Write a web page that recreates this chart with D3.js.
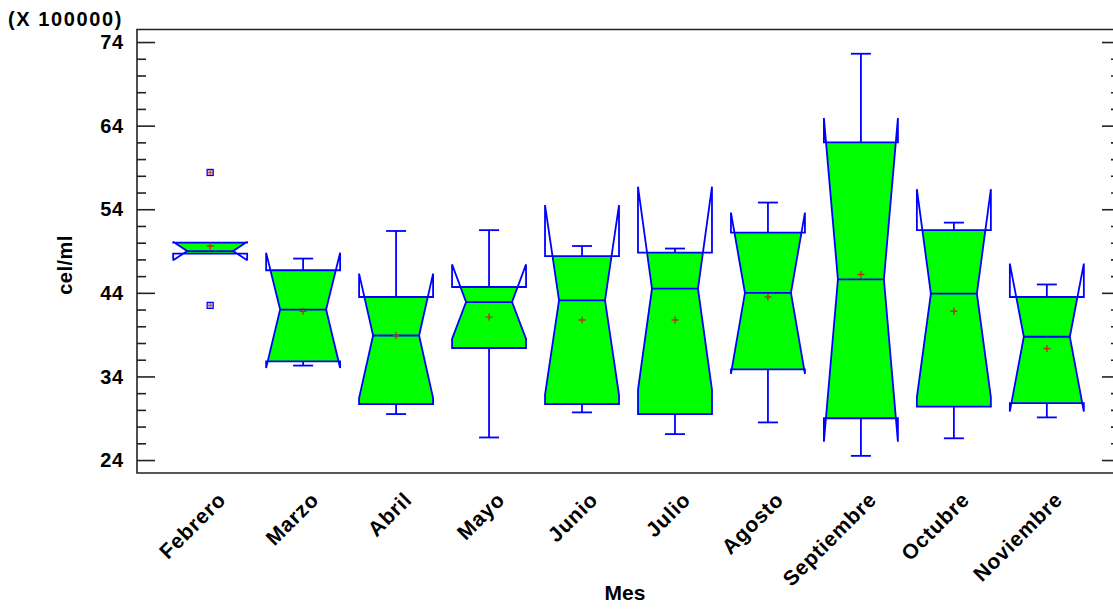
<!DOCTYPE html>
<html><head><meta charset="utf-8">
<script src="https://cdn.jsdelivr.net/npm/d3@7"></script>
<style>
body{margin:0;background:#fff;}
text{font-family:"Liberation Sans",Arial,sans-serif;font-weight:bold;fill:#000;}
</style></head>
<body><svg id="c" width="1113" height="609"></svg>
<script>
const categories = ["Febrero","Marzo","Abril","Mayo","Junio","Julio","Agosto","Septiembre","Octubre","Noviembre"];
const whiskerLo = [48.7, 35.3, 29.5, 26.7, 29.7, 27.1, 28.5, 24.5, 26.6, 29.1];
const q1Values  = [48.7, 35.8, 30.7, 37.4, 30.7, 29.5, 34.85, 29.0, 30.4, 30.8];
const medians   = [49.0, 42.0, 38.9, 42.9, 43.1, 44.5, 44.0, 45.6, 43.9, 38.75];
const q3Values  = [50.0, 46.7, 43.5, 44.7, 48.4, 48.8, 51.2, 62.0, 51.5, 43.5];
const whiskerHi = [50.0, 48.1, 51.4, 51.5, 49.6, 49.3, 54.8, 72.6, 52.4, 45.0];
const means     = [49.6, 41.8, 38.9, 41.1, 40.75, 40.75, 43.5, 46.2, 41.8, 37.35];
const notchLo   = [47.9, 35.0, 31.4, 38.5, 31.8, 32.4, 34.3, 26.2, 31.5, 29.8];
const notchHi   = [50.1, 48.8, 46.3, 47.4, 54.5, 56.7, 53.6, 64.9, 56.4, 47.5];
const outliers  = [{cat:"Febrero", v:58.4}, {cat:"Febrero", v:42.5}];
const yTicks = [24, 34, 44, 54, 64, 74];
const yMinorTicks = d3.range(24, 75, 2);

const svg = d3.select("#c");
const L = 137, R = 1120, T = 29.5, B = 473;
const y = d3.scaleLinear().domain([22.45, 75.5]).range([B, T]);
const x = d3.scalePoint().domain(categories).range([L, R]).padding(0.787);
const hw = 37, mhw = 23, cap = 10;
const blue = "#0000ff";
const sw = 1.8;

// frame
svg.append("path").attr("d", `M${R},${T}H${L}V${B}H${R}`).attr("fill","none").attr("stroke","#222").attr("stroke-width",1.6);

function ticks(pos, gen, vals, size){
  const a = svg.append("g").attr("transform",`translate(${pos},0)`)
    .call(gen(y).tickValues(vals).tickSize(size).tickFormat(""));
  a.select(".domain").remove();
  a.selectAll("line").attr("stroke","#222").attr("stroke-width",1.6);
}
const minorOnly = yMinorTicks.filter(v=>!yTicks.includes(v));
ticks(L, d3.axisRight, yTicks, 18);
ticks(L, d3.axisRight, minorOnly, 9);
ticks(R, d3.axisLeft, yTicks, 18);
ticks(R, d3.axisLeft, minorOnly, 9);

// y tick labels
svg.append("g").selectAll("text").data(yTicks).join("text")
  .attr("x", 124).attr("y", d=>y(d)).attr("dy","0.36em")
  .attr("text-anchor","end").attr("font-size",20).attr("letter-spacing","0.8px")
  .text(d=>d);
svg.append("text").attr("x",8).attr("y",26).attr("font-size",20).attr("letter-spacing","1.6px").text("(X 100000)");
svg.append("text").attr("transform","translate(72,265) rotate(-90)").attr("text-anchor","middle")
  .attr("font-size",20).attr("letter-spacing","0.5px").text("cel/ml");
svg.append("text").attr("x",625).attr("y",600).attr("text-anchor","middle").attr("font-size",21).text("Mes");

// x labels
svg.append("g").selectAll("text").data(categories).join("text")
  .attr("transform", d=>`translate(${x(d)+17},${501}) rotate(-45)`)
  .attr("text-anchor","end").attr("font-size",21).attr("letter-spacing","0.8px")
  .text(d=>d);

// boxes
const clipDefs = svg.append("defs");
categories.forEach((c,i)=>{
  const cx = x(c);
  const g = svg.append("g");
  const yq1 = y(q1Values[i]), yq3 = y(q3Values[i]), ym = y(medians[i]);
  const ynH = y(notchHi[i]), ynL = y(notchLo[i]);
  const pts = [[cx-hw,yq3],[cx+hw,yq3],[cx+hw,ynH],[cx+mhw,ym],[cx+hw,ynL],[cx+hw,yq1],
               [cx-hw,yq1],[cx-hw,ynL],[cx-mhw,ym],[cx-hw,ynH]];
  const pathD = d3.line()(pts) + "Z";
  const id = "clip"+i;
  clipDefs.append("clipPath").attr("id",id).append("rect")
    .attr("x",cx-hw-2).attr("y",yq3).attr("width",2*hw+4).attr("height",yq1-yq3);
  g.append("path").attr("d",pathD).attr("fill","#00ff00").attr("stroke","none").attr("clip-path",`url(#${id})`);
  const wl = [[whiskerHi[i], q3Values[i]],[whiskerLo[i], q1Values[i]]];
  wl.forEach(([w,q])=>{
    if (Math.abs(w-q) > 0.05) {
      g.append("line").attr("x1",cx).attr("x2",cx).attr("y1",y(w)).attr("y2",y(q)).attr("stroke",blue).attr("stroke-width",sw);
      g.append("line").attr("x1",cx-cap).attr("x2",cx+cap).attr("y1",y(w)).attr("y2",y(w)).attr("stroke",blue).attr("stroke-width",sw);
    }
  });
  g.append("path").attr("d",pathD).attr("fill","none").attr("stroke",blue).attr("stroke-width",sw).attr("stroke-linejoin","miter").attr("stroke-miterlimit",2);
  g.append("line").attr("x1",cx-mhw).attr("x2",cx+mhw).attr("y1",ym).attr("y2",ym).attr("stroke",blue).attr("stroke-width",sw);
  const my = y(means[i]);
  g.append("path").attr("d",`M${cx-3.5},${my}H${cx+3.5}M${cx},${my-3.5}V${my+3.5}`).attr("stroke","#b8301a").attr("stroke-width",1.4);
});

// outliers
const og = svg.append("g");
outliers.forEach(o=>{
  const cx = x(o.cat), oy = y(o.v);
  og.append("rect").attr("x",cx-3).attr("y",oy-3).attr("width",6).attr("height",6).attr("fill","#c8c8ff").attr("stroke",blue).attr("stroke-width",1.3);
  og.append("path").attr("d",`M${cx-2.5},${oy}H${cx+2.5}M${cx},${oy-2.5}V${oy+2.5}`).attr("stroke","#c8501e").attr("stroke-width",1);
});
</script></body></html>
